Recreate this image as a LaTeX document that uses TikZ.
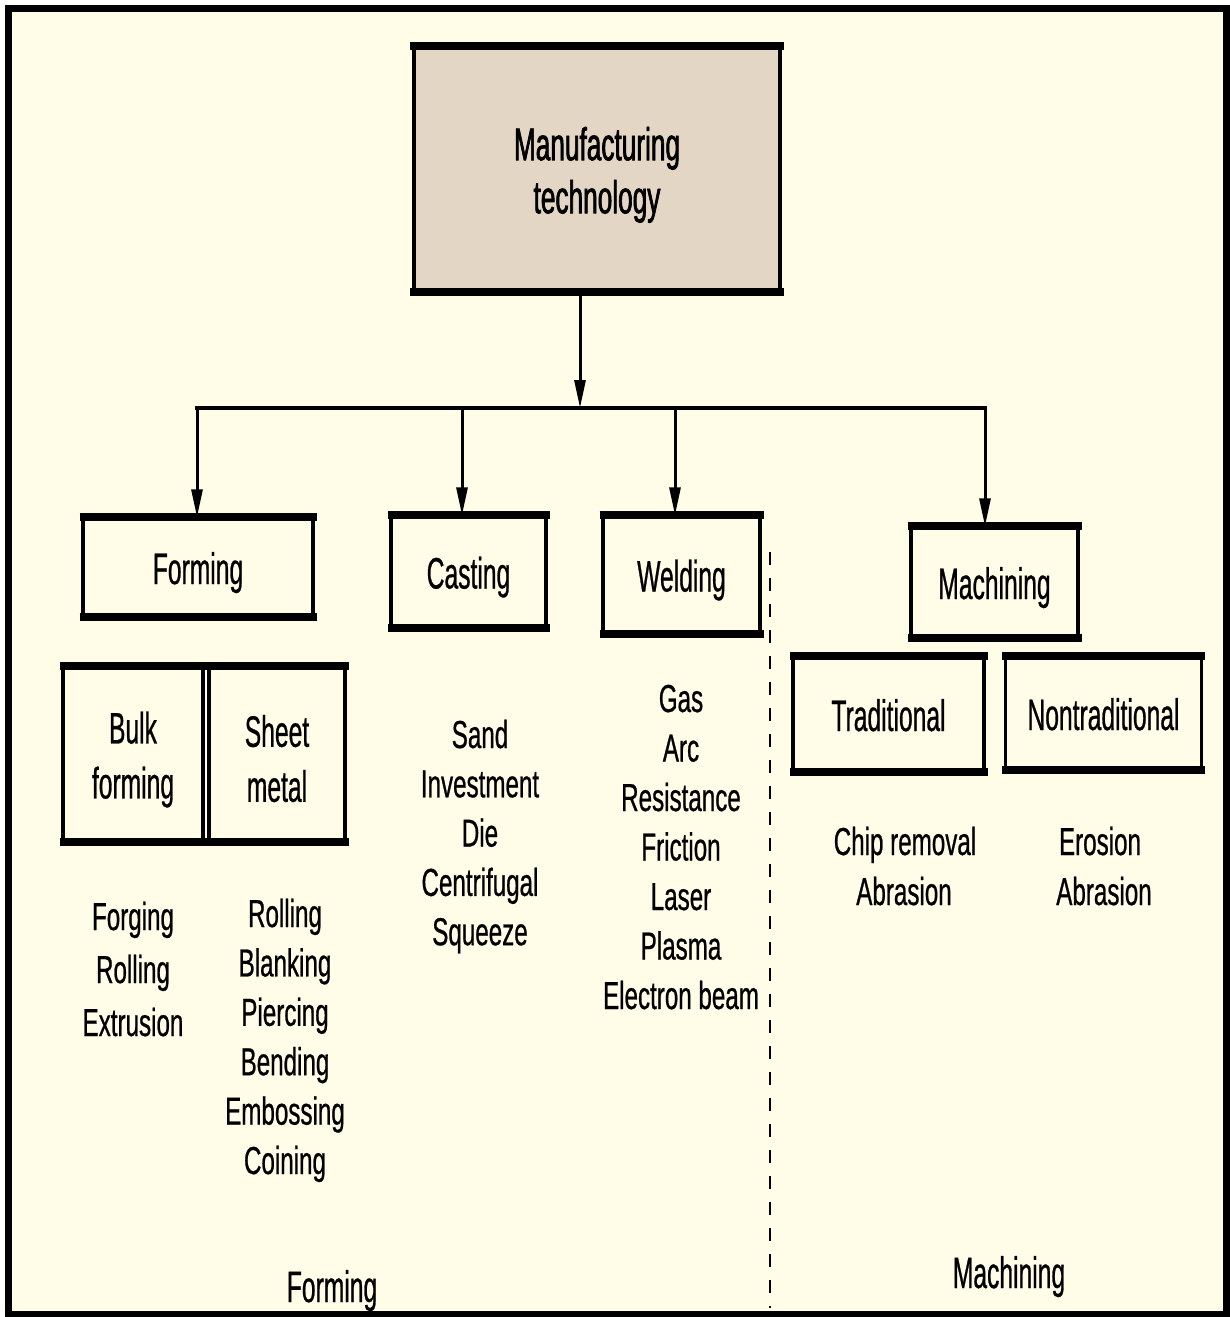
\documentclass[tikz,border=0pt]{standalone}
\usepackage{fontspec}
\setmainfont{Liberation Sans}
\newfontfamily\labfont[FakeStretch=0.56,FakeBold=0.6]{Liberation Sans}
\newfontfamily\lstfont[FakeStretch=0.62,FakeBold=0.6]{Liberation Sans}
\newfontfamily\ttlfont[FakeStretch=0.57,FakeBold=1.4]{Liberation Sans}
\usetikzlibrary{arrows.meta}
\definecolor{bgc}{HTML}{FFFDE8}
\definecolor{ttlc}{HTML}{E3D6C4}
\begin{document}
\begin{tikzpicture}[x=1pt,y=-1pt,
  box/.style={draw, line width=3.5pt, inner sep=0pt, align=center,
    font=\labfont\fontsize{44}{55}\selectfont,
    append after command={\pgfextra{\draw[line width=8pt]
      ([xshift=-1.75pt]\tikzlastnode.north west) -- ([xshift=1.75pt]\tikzlastnode.north east)
      ([xshift=-1.75pt]\tikzlastnode.south west) -- ([xshift=1.75pt]\tikzlastnode.south east);}}},
  one/.style={text height=34pt, text depth=0pt},
  lst/.style={anchor=base, inner sep=0pt, font=\lstfont\fontsize{39}{49}\selectfont},
  lab/.style={anchor=base, inner sep=0pt, font=\labfont\fontsize{44}{55}\selectfont},
  conn/.style={line width=3.5pt, line cap=rect},
  arr/.style={line width=3pt, -{Triangle[length=28pt,width=11pt]}},
]
\useasboundingbox (0,0) rectangle (1229,1317);
\fill[bgc] (8.5,8.5) rectangle (1226,1314);
\draw[line width=7pt] (8.5,8.5) rectangle (1226,1314);

% title
\node[box, fill=ttlc, line width=4.5pt, minimum width=366pt, minimum height=242pt,
  font=\ttlfont\fontsize{46}{53}\selectfont] (mt) at (597,169)
  {\rule{0pt}{45pt}Manufacturing\\technology};

% second level
\node[box, one, minimum width=230pt, minimum height=96pt] (form) at (198,567) {Forming};
\node[box, one, minimum width=155pt, minimum height=109pt] (cast) at (468.5,571.5) {Casting};
\node[box, one, minimum width=157pt, minimum height=115pt] (weld) at (681.5,574.5) {Welding};
\node[box, one, minimum width=167pt, minimum height=108pt] (mach) at (994.5,582) {Machining};

% third level
\node[box, minimum width=140pt, minimum height=172pt] (bulk) at (133,754) {\rule{0pt}{43pt}Bulk\\forming};
\node[box, minimum width=136pt, minimum height=172pt] (sheet) at (277,754) {\rule{0pt}{41pt}Sheet\\metal};
\node[box, one, minimum width=191pt, minimum height=112pt] (trad) at (888.5,714) {Traditional};
\node[box, one, minimum width=196pt, minimum height=110pt] (ntrad) at (1103.5,713) {Nontraditional};

% connectors
\coordinate (j) at (580,408);
\coordinate (b1) at (197,408);
\coordinate (b2) at (462,408);
\coordinate (b3) at (675,408);
\coordinate (b4) at (985,408);
\draw[arr] (mt.south -| j) -- (j);
\draw[conn] (b1) -- (b4);
\draw[arr] (b1) -- (b1 |- form.north);
\draw[arr] (b2) -- (b2 |- cast.north);
\draw[arr] (b3) -- (b3 |- weld.north);
\draw[arr] (b4) -- (b4 |- mach.north);

% divider
\coordinate (d1) at (770,552);
\coordinate (d2) at (770,1308);
\draw[line width=2.5pt, dash pattern=on 13pt off 13pt] (d1) -- (d2);

% lists
\foreach \t [count=\i] in {Forging,Rolling,Extrusion}
  \node[lst] (bl\i) at (133,{930+53*(\i-1)}) {\t};
\foreach \t [count=\i] in {Rolling,Blanking,Piercing,Bending,Embossing,Coining}
  \node[lst] (sl\i) at (285,{927+49.4*(\i-1)}) {\t};
\foreach \t [count=\i] in {Sand,Investment,Die,Centrifugal,Squeeze}
  \node[lst] (cl\i) at (480,{748+49.3*(\i-1)}) {\t};
\foreach \t [count=\i] in {Gas,Arc,Resistance,Friction,Laser,Plasma,Electron beam}
  \node[lst] (wl\i) at (681,{712+49.5*(\i-1)}) {\t};
\node[lst] (tl1) at (905,855) {Chip removal};
\node[lst] (tl2) at (904,905) {Abrasion};
\node[lst] (nl1) at (1100,855) {Erosion};
\node[lst] (nl2) at (1104,905) {Abrasion};

% region labels
\node[lab] (fregion) at (332,1302) {Forming};
\node[lab] (mregion) at (1009,1288) {Machining};
\end{tikzpicture}
\end{document}
